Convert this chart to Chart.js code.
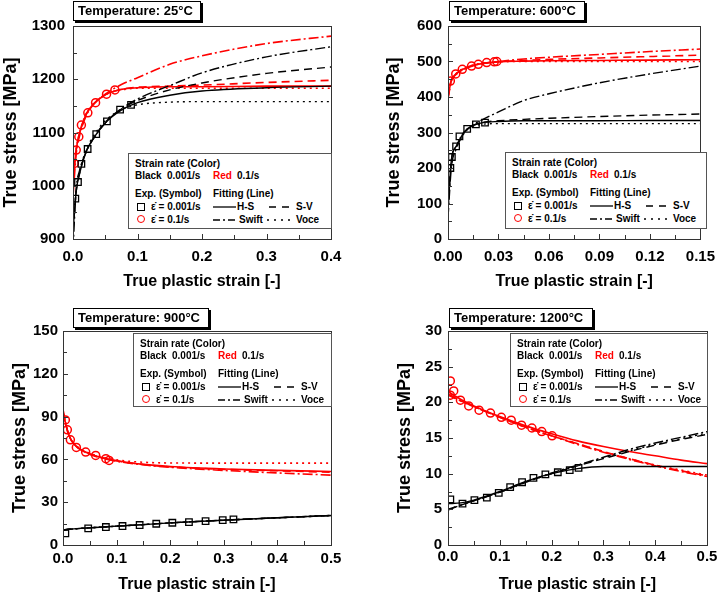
<!DOCTYPE html>
<html>
<head>
<meta charset="utf-8">
<script src="https://cdn.jsdelivr.net/npm/chart.js@4.4.1/dist/chart.umd.min.js"></script>
<style>
  body { margin: 0; background: #fff; width: 724px; height: 596px; position: relative; overflow: hidden;
         font-family: "Liberation Sans", Arial, sans-serif; }
  .pane { position: absolute; width: 362px; height: 298px; }
  .tbox { position: absolute; border: 1px solid #000; box-shadow: 2px 2px 0 #000; background: #fff;
          font-weight: bold; font-size: 13px; line-height: 18px; padding: 0 4px; white-space: nowrap; box-sizing: border-box; }
  .leg { position: absolute; border: 1px solid #555; background: #fff; font-size: 10px; font-weight: bold; box-sizing: border-box; }
  .leg span { position: absolute; white-space: nowrap; line-height: 12px; }
  .leg svg { position: absolute; }
</style>
</head>
<body>

<script>
// ---------- 25 °C ----------
const ticksX25 = [0, 0.1, 0.2, 0.3, 0.4];
const labelsX25 = ['0.0', '0.1', '0.2', '0.3', '0.4'];
const ticksY25 = [900, 1000, 1100, 1200, 1300];
const labelsY25 = ['900', '1000', '1100', '1200', '1300'];
const expStrain25Slow = [0.0036, 0.0077, 0.013, 0.0227, 0.036, 0.0526, 0.073, 0.090];
const expStress25Slow = [976, 1007, 1041, 1069, 1097, 1121, 1143, 1152];
const expStrain25Fast = [0.002, 0.005, 0.009, 0.013, 0.023, 0.035, 0.052, 0.065];
const expStress25Fast = [1042, 1067, 1092, 1114, 1137, 1156, 1172, 1180];
const fitStrain25 = [0, 0.005, 0.01, 0.02, 0.03, 0.05, 0.075, 0.1, 0.15, 0.2, 0.3, 0.4];
const hs25Slow = [915, 990, 1022, 1063, 1086, 1118, 1142, 1156, 1170, 1178, 1184, 1187];
const sv25Slow = [915, 990, 1022, 1063, 1086, 1119, 1144, 1160, 1180, 1193, 1211, 1223];
const sw25Slow = [880, 995, 1028, 1062, 1085, 1118, 1145, 1163, 1188, 1212, 1242, 1261];
const vo25Slow = [918, 992, 1025, 1066, 1090, 1122, 1143, 1152, 1157, 1158, 1158, 1158];
const hs25Fast = [1010, 1068, 1098, 1133, 1151, 1171, 1181, 1184, 1186, 1186, 1187, 1187];
const sv25Fast = [1010, 1068, 1098, 1133, 1151, 1171, 1181, 1185, 1187, 1189, 1194, 1198];
const sw25Fast = [980, 1060, 1093, 1130, 1150, 1172, 1190, 1203, 1228, 1244, 1267, 1281];
const vo25Fast = [1012, 1069, 1099, 1134, 1152, 1171, 1180, 1183, 1183, 1183, 1183, 1183];

// ---------- 600 °C ----------
const ticksX600 = [0, 0.03, 0.06, 0.09, 0.12, 0.15];
const labelsX600 = ['0.00', '0.03', '0.06', '0.09', '0.12', '0.15'];
const ticksY600 = [0, 100, 200, 300, 400, 500, 600];
const labelsY600 = ['0', '100', '200', '300', '400', '500', '600'];
const expStrain600Slow = [0.0014, 0.0023, 0.0048, 0.0068, 0.0114, 0.0166, 0.022];
const expStress600Slow = [200, 231, 261, 289, 310, 323, 328];
const expStrain600Fast = [0.0014, 0.0046, 0.0085, 0.014, 0.018, 0.023, 0.0275, 0.029];
const expStress600Fast = [445, 465, 478, 487, 492, 497, 499, 500];
const fitStrain600 = [0, 0.002, 0.005, 0.01, 0.015, 0.02, 0.03, 0.045, 0.06, 0.09, 0.12, 0.15];
const hs600Slow = [80, 222, 262, 303, 320, 327, 331, 333, 333, 333, 334, 334];
const sv600Slow = [80, 222, 262, 303, 320, 328, 333, 337, 340, 345, 349, 352];
const sw600Slow = [60, 200, 255, 300, 322, 335, 358, 390, 409, 440, 465, 487];
const vo600Slow = [85, 220, 262, 304, 318, 323, 325, 325, 325, 325, 325, 325];
const hs600Fast = [400, 447, 466, 481, 489, 494, 499, 501, 502, 503, 504, 505];
const sv600Fast = [400, 447, 466, 481, 489, 494, 500, 503, 506, 510, 514, 518];
const sw600Fast = [395, 445, 464, 479, 488, 494, 500, 507, 512, 520, 528, 535];
const vo600Fast = [402, 448, 467, 482, 490, 495, 499, 500, 500, 500, 500, 500];

// ---------- 900 °C ----------
const ticksX900 = [0, 0.1, 0.2, 0.3, 0.4, 0.5];
const labelsX900 = ['0.0', '0.1', '0.2', '0.3', '0.4', '0.5'];
const ticksY900 = [0, 30, 60, 90, 120, 150];
const labelsY900 = ['0', '30', '60', '90', '120', '150'];
const expStrain900Slow = [0.0044, 0.047, 0.080, 0.111, 0.143, 0.174, 0.204, 0.235, 0.266, 0.298, 0.318];
const expStress900Slow = [8.1, 11.6, 12.6, 13.3, 14.0, 14.9, 15.6, 16.0, 16.7, 17.4, 17.9];
const expStrain900Fast = [0.0044, 0.0081, 0.0137, 0.0249, 0.0423, 0.061, 0.080, 0.086];
const expStress900Fast = [87.7, 80.7, 73.7, 68.4, 65.1, 62.8, 60.5, 59.3];
const fitStrain900 = [0, 0.01, 0.02, 0.04, 0.06, 0.1, 0.15, 0.2, 0.3, 0.4, 0.5];
const hs900Slow = [10.5, 11.0, 11.3, 11.8, 12.3, 13.2, 14.3, 15.5, 17.4, 19.1, 20.7];
const sv900Slow = [10.5, 11.0, 11.3, 11.8, 12.3, 13.2, 14.3, 15.5, 17.4, 19.1, 20.6];
const sw900Slow = [10.3, 11.0, 11.3, 11.8, 12.3, 13.2, 14.3, 15.5, 17.4, 19.1, 20.8];
const vo900Slow = [10.5, 11.0, 11.3, 11.8, 12.3, 13.2, 14.3, 15.5, 17.4, 19.0, 20.6];
const hs900Fast = [93, 78, 71, 65.5, 62.5, 59, 56.5, 55, 53.3, 52.3, 51.5];
const sv900Fast = [93, 78, 71, 65.5, 62.5, 59, 56.4, 54.8, 53, 52, 51];
const sw900Fast = [95, 78, 71, 65.3, 62.2, 58.7, 56.2, 54.5, 52.3, 50.5, 49];
const vo900Fast = [92, 78, 71.5, 66, 63, 59.7, 58, 57.5, 57.4, 57.4, 57.4];

// ---------- 1200 °C ----------
const ticksX1200 = [0, 0.1, 0.2, 0.3, 0.4, 0.5];
const labelsX1200 = ['0.0', '0.1', '0.2', '0.3', '0.4', '0.5'];
const ticksY1200 = [0, 5, 10, 15, 20, 25, 30];
const labelsY1200 = ['0', '5', '10', '15', '20', '25', '30'];
const expStrain1200Slow = [0.0045, 0.028, 0.051, 0.075, 0.098, 0.12, 0.143, 0.165, 0.188, 0.212, 0.235, 0.252];
const expStress1200Slow = [6.4, 5.8, 6.3, 6.65, 7.3, 8.1, 8.8, 9.4, 9.9, 10.2, 10.5, 10.8];
const expStrain1200Fast = [0.0045, 0.0045, 0.011, 0.024, 0.040, 0.060, 0.082, 0.103, 0.122, 0.142, 0.162, 0.181, 0.201];
const expStress1200Fast = [23.0, 21.0, 21.6, 20.3, 19.5, 18.9, 18.5, 17.9, 17.5, 16.8, 16.4, 15.9, 15.3];
const fitStrain1200 = [0, 0.025, 0.05, 0.1, 0.15, 0.2, 0.25, 0.3, 0.35, 0.4, 0.45, 0.5];
const hs1200Slow = [5.8, 5.9, 6.3, 7.5, 8.9, 10.0, 10.7, 11.0, 11.0, 11.0, 11.0, 11.0];
const sv1200Slow = [5.0, 5.6, 6.2, 7.4, 8.8, 10.0, 11.1, 12.1, 13.1, 14.0, 14.8, 15.5];
const sw1200Slow = [4.9, 5.6, 6.2, 7.4, 8.8, 10.1, 11.2, 12.3, 13.4, 14.3, 15.1, 15.9];
const vo1200Slow = [5.0, 5.6, 6.2, 7.4, 8.8, 10.0, 11.1, 12.2, 13.2, 14.1, 14.9, 15.7];
const hs1200Fast = [21.5, 20.4, 19.5, 18.0, 16.7, 15.6, 14.6, 13.8, 13.1, 12.5, 11.9, 11.4];
const sv1200Fast = [21.0, 20.2, 19.4, 17.9, 16.5, 15.3, 14.2, 13.1, 12.1, 11.2, 10.4, 9.7];
const sw1200Fast = [21.2, 20.2, 19.4, 17.9, 16.5, 15.3, 14.1, 13.0, 12.0, 11.1, 10.3, 9.6];
const vo1200Fast = [21.1, 20.2, 19.4, 17.9, 16.5, 15.3, 14.2, 13.1, 12.1, 11.2, 10.5, 9.8];

const RED = '#ff0000';
const BLACK = '#000000';
const FONT = '"Liberation Sans", Arial, sans-serif';

// layout of each panel (canvas placement and axis boxes)
const panels = [
  { temp: '25', left: 0, top: 0, padL: 0, padT: 26, padR: 31, yW: 73, xH: 59, tickPadX: 9, titlePadX: 7, yTickPad: 8,
    xmin: 0, xmax: 0.4, ymin: 900, ymax: 1300, xt: ticksX25, xl: labelsX25, yt: ticksY25, yl: labelsY25,
    xMinor: 0.05, yMinor: 50,
    slow: [expStrain25Slow, expStress25Slow], fast: [expStrain25Fast, expStress25Fast],
    fx: fitStrain25, fits: [hs25Slow, sv25Slow, sw25Slow, vo25Slow, hs25Fast, sv25Fast, sw25Fast, vo25Fast],
    tbox: { left: 73, top: 1, width: 128 }, leg: { left: 128, top: 153, width: 204, height: 76 } },
  { temp: '600', left: 362, top: 0, padL: 21, padT: 26, padR: 18, yW: 65, xH: 59, tickPadX: 9, titlePadX: 7, yTickPad: 6,
    xmin: 0, xmax: 0.15, ymin: 0, ymax: 600, xt: ticksX600, xl: labelsX600, yt: ticksY600, yl: labelsY600,
    xMinor: 0.015, yMinor: 50,
    slow: [expStrain600Slow, expStress600Slow], fast: [expStrain600Fast, expStress600Fast],
    fx: fitStrain600, fits: [hs600Slow, sv600Slow, sw600Slow, vo600Slow, hs600Fast, sv600Fast, sw600Fast, vo600Fast],
    tbox: { left: 449, top: 1, width: 136 }, leg: { left: 505, top: 152, width: 202, height: 77 } },
  { temp: '900', left: 0, top: 298, padL: 9, padT: 33, padR: 31, yW: 54, xH: 51, tickPadX: 5, titlePadX: 2, yTickPad: 5,
    xmin: 0, xmax: 0.5, ymin: 0, ymax: 150, xt: ticksX900, xl: labelsX900, yt: ticksY900, yl: labelsY900,
    xMinor: 0.05, yMinor: 15,
    slow: [expStrain900Slow, expStress900Slow], fast: [expStrain900Fast, expStress900Fast],
    fx: fitStrain900, fits: [hs900Slow, sv900Slow, sw900Slow, vo900Slow, hs900Fast, sv900Fast, sw900Fast, vo900Fast],
    tbox: { left: 73, top: 308, width: 136 }, leg: { left: 133, top: 333, width: 199, height: 74 } },
  { temp: '1200', left: 362, top: 298, padL: 32, padT: 33, padR: 17, yW: 54, xH: 51, tickPadX: 3, titlePadX: 2, yTickPad: 6,
    xmin: 0, xmax: 0.5, ymin: 0, ymax: 30, xt: ticksX1200, xl: labelsX1200, yt: ticksY1200, yl: labelsY1200,
    xMinor: 0.05, yMinor: 2.5,
    slow: [expStrain1200Slow, expStress1200Slow], fast: [expStrain1200Fast, expStress1200Fast],
    fx: fitStrain1200, fits: [hs1200Slow, sv1200Slow, sw1200Slow, vo1200Slow, hs1200Fast, sv1200Fast, sw1200Fast, vo1200Fast],
    tbox: { left: 449, top: 308, width: 144 }, leg: { left: 510, top: 333, width: 198, height: 74 } },
];

const dashes = [[], [8, 5], [10, 3, 2, 3], [2, 4]];

// frame around the plot + inward ticks on left and bottom
const frameTicks = {
  id: 'frameTicks',
  afterDatasetsDraw(chart, args, opts) {
    const { ctx, chartArea: a, scales: { x, y } } = chart;
    ctx.save();
    ctx.strokeStyle = '#333';
    ctx.lineWidth = 1;
    ctx.strokeRect(Math.round(a.left) + 0.5, Math.round(a.top) + 0.5,
                   Math.round(a.right - a.left), Math.round(a.bottom - a.top));
    ctx.beginPath();
    const nx = Math.round((x.max - x.min) / opts.xMinor);
    for (let i = 1; i < nx; i++) {
      const v = x.min + i * opts.xMinor;
      const px = Math.round(x.getPixelForValue(v)) + 0.5;
      const len = i % 2 === 0 ? 5 : 4;
      ctx.moveTo(px, a.bottom); ctx.lineTo(px, a.bottom - len);
    }
    const ny = Math.round((y.max - y.min) / opts.yMinor);
    for (let i = 1; i < ny; i++) {
      const v = y.min + i * opts.yMinor;
      const py = Math.round(y.getPixelForValue(v)) + 0.5;
      const len = i % 2 === 0 ? 5 : 4;
      ctx.moveTo(a.left, py); ctx.lineTo(a.left + len, py);
    }
    ctx.stroke();
    ctx.restore();
  }
};

function pts(xs, ys) { return xs.map((v, i) => ({ x: v, y: ys[i] })); }

function legendHTML() {
  const line = (l, t, dash) =>
    `<svg style="left:${l}px;top:${t}px" width="23" height="4"><line x1="0" y1="2" x2="23" y2="2" stroke="#000" stroke-width="1.3" ${dash ? `stroke-dasharray="${dash}"` : ''}/></svg>`;
  return `
    <span style="left:6px;top:4px">Strain rate (Color)</span>
    <span style="left:6px;top:16px">Black</span><span style="left:38px;top:16px">0.001/s</span>
    <span style="left:84px;top:16px;color:${RED}">Red</span><span style="left:108px;top:16px">0.1/s</span>
    <span style="left:6px;top:34px">Exp. (Symbol)</span>
    <span style="left:84px;top:34px">Fitting (Line)</span>
    <div style="position:absolute;left:8px;top:49px;width:6px;height:6px;border:1.3px solid #000"></div>
    <span style="left:22px;top:47px">&#949;&#775; = 0.001/s</span>
    <div style="position:absolute;left:8px;top:61px;width:6px;height:6px;border:1.5px solid ${RED};border-radius:50%"></div>
    <span style="left:22px;top:60px">&#949;&#775; = 0.1/s</span>
    ${line(84, 51, '')}<span style="left:108px;top:47px">H-S</span>
    ${line(140, 51, '7 6')}<span style="left:167px;top:47px">S-V</span>
    ${line(84, 64, '7 3 2 3')}<span style="left:110px;top:60px">Swift</span>
    ${line(138, 64, '2 5')}<span style="left:167px;top:60px">Voce</span>`;
}

function build(p, idx) {
  const pane = document.createElement('div');
  pane.className = 'pane';
  pane.style.left = p.left + 'px';
  pane.style.top = p.top + 'px';
  const cv = document.createElement('canvas');
  cv.id = 'c' + idx;
  cv.width = 362; cv.height = 298;
  pane.appendChild(cv);
  document.body.appendChild(pane);

  const tb = document.createElement('div');
  tb.className = 'tbox';
  tb.style.left = p.tbox.left + 'px';
  tb.style.top = p.tbox.top + 'px';
  tb.style.width = p.tbox.width + 'px';
  tb.textContent = 'Temperature: ' + p.temp + '°C';
  document.body.appendChild(tb);

  const lg = document.createElement('div');
  lg.className = 'leg';
  Object.assign(lg.style, { left: p.leg.left + 'px', top: p.leg.top + 'px', width: p.leg.width + 'px', height: p.leg.height + 'px' });
  lg.innerHTML = legendHTML();
  document.body.appendChild(lg);

  const datasets = [
    { data: pts(p.slow[0], p.slow[1]), showLine: false, pointStyle: 'rect', pointRadius: 4.6, pointBorderWidth: 1.3,
      pointBorderColor: BLACK, pointBackgroundColor: 'rgba(0,0,0,0)' },
    { data: pts(p.fast[0], p.fast[1]), showLine: false, pointStyle: 'circle', pointRadius: 4, pointBorderWidth: 1.5,
      pointBorderColor: RED, pointBackgroundColor: 'rgba(0,0,0,0)' },
  ];
  p.fits.forEach((ys, k) => {
    datasets.push({
      data: pts(p.fx, ys), borderColor: k < 4 ? BLACK : RED, borderWidth: k < 4 ? 1.4 : 1.6,
      borderDash: dashes[k % 4], pointRadius: 0, cubicInterpolationMode: 'monotone', fill: false
    });
  });

  new Chart(cv.getContext('2d'), {
    type: 'line',
    data: { datasets },
    options: {
      responsive: false, animation: false,
      layout: { padding: { left: p.padL, top: p.padT, right: p.padR, bottom: 0 } },
      plugins: { legend: { display: false }, tooltip: { enabled: false },
                 frameTicks: { xMinor: p.xMinor, yMinor: p.yMinor } },
      scales: {
        x: {
          type: 'linear', min: p.xmin, max: p.xmax,
          afterBuildTicks: s => { s.ticks = p.xt.map(v => ({ value: v })); },
          afterFit: s => { s.height = p.xH; },
          grid: { display: false, drawTicks: false }, border: { display: false },
          ticks: { padding: p.tickPadX, color: '#000', autoSkip: false, maxRotation: 0,
                   font: { family: FONT, size: 15, weight: 'bold' }, callback: (v, i) => p.xl[i] },
          title: { display: true, text: 'True plastic strain [-]', color: '#000',
                   font: { family: FONT, size: 16, weight: 'bold' }, padding: { top: 0, bottom: p.titlePadX } }
        },
        y: {
          type: 'linear', min: p.ymin, max: p.ymax,
          afterBuildTicks: s => { s.ticks = p.yt.map(v => ({ value: v })); },
          afterFit: s => { s.width = p.yW; },
          grid: { display: false, drawTicks: false }, border: { display: false },
          ticks: { padding: p.yTickPad, color: '#000', autoSkip: false,
                   font: { family: FONT, size: 15, weight: 'bold' }, callback: (v, i) => p.yl[i] },
          title: { display: true, text: 'True stress [MPa]', color: '#000',
                   font: { family: FONT, size: 18, weight: 'bold' }, padding: { top: 0, bottom: 0 } }
        }
      }
    },
    plugins: [frameTicks]
  });
}

panels.forEach(build);
</script>
</body>
</html>
